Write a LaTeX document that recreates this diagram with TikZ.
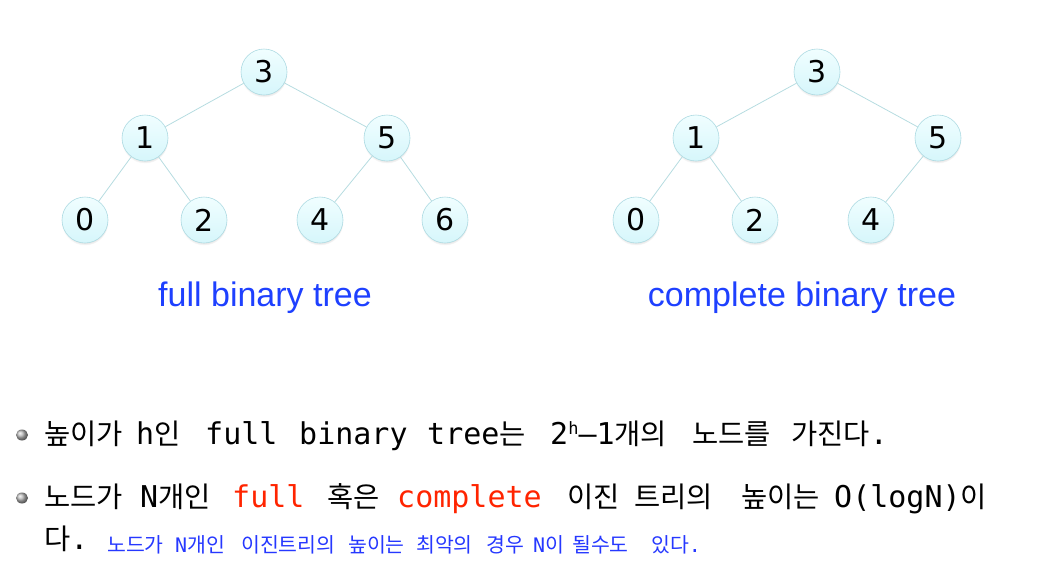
\documentclass[tikz,border=0pt]{standalone}
\usepackage{fontspec}
\setmainfont{DejaVu Sans Mono}
\newfontfamily\kr{Noto Sans CJK KR}
\newfontfamily\labfont{Liberation Sans}
\newfontfamily\numfont{DejaVu Sans}
\usetikzlibrary{shadows,shapes.geometric}
\definecolor{nodefill}{HTML}{D6F6FB}
\definecolor{nodetop}{HTML}{F0FEFF}
\definecolor{nodeline}{HTML}{ADDAE2}
\definecolor{edgecol}{HTML}{B6DCE0}
\definecolor{labblue}{HTML}{1E40FF}
\definecolor{redtxt}{HTML}{FF2400}
\definecolor{smallblue}{HTML}{2638FF}
\newcommand\KR[1]{{\kr\fontsize{28.5}{30}\selectfont #1}}
\newcommand\KS[1]{{\kr\fontsize{20.5}{22}\selectfont #1}}
\tikzset{
  tnode/.style={circle, minimum size=46pt, inner sep=0pt, draw=nodeline, line width=0.6pt,
    top color=nodetop, bottom color=nodefill,
    circular drop shadow={shadow xshift=0pt, shadow yshift=-2pt, opacity=0.25, shadow scale=1.02},
    font=\numfont\fontsize{30}{32}\selectfont},
  edge/.style={draw=edgecol, line width=0.8pt},
  treelab/.style={text=labblue, font=\labfont\fontsize{34}{36}\selectfont, inner sep=0pt, anchor=base},
  bigtxt/.style={anchor=base west, inner sep=0pt, font=\fontsize{30}{32}\selectfont},
  smalltxt/.style={anchor=base west, inner sep=0pt, text=smallblue, font=\fontsize{20}{22}\selectfont},
  bulletdot/.style={ellipse, minimum width=12pt, minimum height=11pt, inner sep=0pt, ball color=gray!55}
}
\begin{document}
\begin{tikzpicture}[x=1pt,y=-1pt]
\useasboundingbox (0,0) rectangle (1038,582);
% left tree
\node[tnode] (a3) at (264,72) {3};
\node[tnode] (a1) at (145,138) {1};
\node[tnode] (a5) at (387,138) {5};
\node[tnode] (a0) at (85,220) {0};
\node[tnode] (a2) at (204,220) {2};
\node[tnode] (a4) at (320,220) {4};
\node[tnode] (a6) at (445,220) {6};
\draw[edge] (a3) -- (a1);
\draw[edge] (a3) -- (a5);
\draw[edge] (a1) -- (a0);
\draw[edge] (a1) -- (a2);
\draw[edge] (a5) -- (a4);
\draw[edge] (a5) -- (a6);
% right tree
\node[tnode] (b3) at (817,72) {3};
\node[tnode] (b1) at (696,138) {1};
\node[tnode] (b5) at (938,138) {5};
\node[tnode] (b0) at (636,220) {0};
\node[tnode] (b2) at (755,220) {2};
\node[tnode] (b4) at (871,220) {4};
\draw[edge] (b3) -- (b1);
\draw[edge] (b3) -- (b5);
\draw[edge] (b1) -- (b0);
\draw[edge] (b1) -- (b2);
\draw[edge] (b5) -- (b4);
% labels
\node[treelab] (lfull) at (265,306) {full binary tree};
\node[treelab] (lcomp) at (802,306) {complete binary tree};
% bullets
\node[bulletdot] (bu1) at (22,435) {};
\node[bulletdot] (bu2) at (22,498) {};
% line 1
\node[bigtxt] (t11) at (44,444) {\KR{높이가}};
\node[bigtxt] (t12) at (136,444) {h\KR{인}};
\node[bigtxt] (t13) at (205,444) {full};
\node[bigtxt] (t14) at (299,444) {binary};
\node[bigtxt] (t15) at (427,444) {tree\KR{는}};
\node[bigtxt] (t16) at (550,444) {2\raisebox{0.55ex}{\fontsize{17}{18}\selectfont h}–1\KR{개의}};
\node[bigtxt] (t17) at (692,444) {\KR{노드를}};
\node[bigtxt] (t18) at (791,444) {\KR{가진다}.};
% line 2
\node[bigtxt] (t21) at (44,507) {\KR{노드가}};
\node[bigtxt] (t22) at (140,507) {N\KR{개인}};
\node[bigtxt, text=redtxt] (t23) at (232,507) {full};
\node[bigtxt] (t24) at (327,507) {\KR{혹은}};
\node[bigtxt, text=redtxt] (t25) at (397,507) {complete};
\node[bigtxt] (t26) at (567,507) {\KR{이진}};
\node[bigtxt] (t27) at (634,507) {\KR{트리의}};
\node[bigtxt] (t28) at (741,507) {\KR{높이는}};
\node[bigtxt] (t29) at (834,507) {O(logN)\KR{이}};
% line 3
\node[bigtxt] (t31) at (44,549) {\KR{다}.};
\node[smalltxt] (s1) at (107,552) {\KS{노드가}};
\node[smalltxt] (s2) at (175,552) {N\KS{개인}};
\node[smalltxt] (s3) at (241,552) {\KS{이진트리의}};
\node[smalltxt] (s4) at (348,552) {\KS{높이는}};
\node[smalltxt] (s5) at (416,552) {\KS{최악의}};
\node[smalltxt] (s6) at (486,552) {\KS{경우}};
\node[smalltxt] (s7) at (533,552) {N\KS{이}};
\node[smalltxt] (s8) at (572,552) {\KS{될수도}};
\node[smalltxt] (s9) at (651,552) {\KS{있다}.};
\end{tikzpicture}
\end{document}
